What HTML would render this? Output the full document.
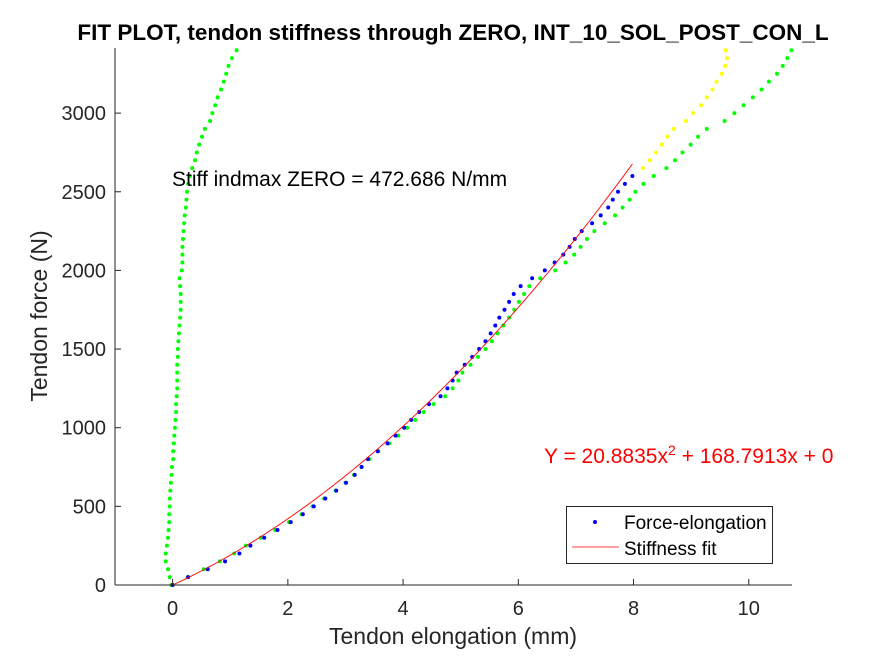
<!DOCTYPE html>
<html><head><meta charset="utf-8"><style>
body{margin:0;background:#fff;width:875px;height:656px;overflow:hidden}
svg{font-family:"Liberation Sans",Arial,sans-serif}
</style></head><body>
<svg id="chart" width="875" height="656">
<rect width="875" height="656" fill="#fff"/>
<text x="453" y="40" text-anchor="middle" font-size="22.5" font-weight="bold" fill="#000">FIT PLOT, tendon stiffness through ZERO, INT_10_SOL_POST_CON_L</text>
<g id="marks"></g>
<g id="axes"></g>
<text x="453" y="644" text-anchor="middle" font-size="23" fill="#262626">Tendon elongation (mm)</text>
<text transform="translate(47,316) rotate(-90)" text-anchor="middle" font-size="23" fill="#262626">Tendon force (N)</text>
<text x="172" y="186" font-size="21" fill="#000">Stiff indmax ZERO = 472.686 N/mm</text>
<text x="544" y="463" font-size="21" fill="#f00">Y = 20.8835x<tspan dy="-8" font-size="14">2</tspan><tspan dy="8"> + 168.7913x + 0</tspan></text>
<g>
<rect x="566.5" y="506.5" width="206" height="57" fill="#fff" stroke="#262626" stroke-width="1"/>
<circle cx="595" cy="522" r="2" fill="#00f"/>
<text x="624" y="529" font-size="19" fill="#000">Force-elongation</text>
<line x1="572" y1="547" x2="619" y2="547" stroke="#f00" stroke-width="0.8"/>
<text x="624" y="555" font-size="19" fill="#000">Stiffness fit</text>
</g>
</svg>
<script>
const xTicks=[0,2,4,6,8,10];
const yTicks=[0,500,1000,1500,2000,2500,3000];
const greenLeftX=[-0.02,-0.05,-0.08,-0.12,-0.12,-0.10,-0.08,-0.07,-0.06,-0.06,-0.05,-0.05,-0.04,-0.03,-0.02,-0.01,0.01,0.01,0.02,0.03,0.04,0.05,0.06,0.06,0.07,0.08,0.08,0.08,0.08,0.09,0.09,0.10,0.11,0.12,0.13,0.14,0.14,0.14,0.13,0.12,0.16,0.17,0.17,0.17,0.18,0.19,0.20,0.21,0.23,0.24,0.25,0.27,0.30,0.34,0.39,0.42,0.46,0.51,0.56,0.65,0.69,0.74,0.78,0.84,0.89,0.93,0.97,1.03,1.11];
const greenRightX=[0,0.26,0.54,0.82,1.07,1.27,1.53,1.78,2.02,2.24,2.43,2.63,2.83,3.00,3.15,3.28,3.41,3.57,3.76,3.92,4.07,4.21,4.36,4.53,4.73,4.86,4.96,5.03,5.17,5.30,5.43,5.54,5.64,5.74,5.84,5.93,6.01,6.10,6.19,6.38,6.64,6.82,6.97,7.08,7.19,7.32,7.50,7.68,7.81,7.93,8.03,8.17,8.35,8.57,8.72,8.85,8.99,9.12,9.27,9.58,9.75,9.91,10.07,10.22,10.35,10.49,10.59,10.67,10.74];
const yellowX=[8.16,8.28,8.39,8.49,8.59,8.70,8.91,9.03,9.17,9.27,9.37,9.44,9.53,9.59,9.62,9.60];
const yellowStart=2650;
const blueX=[0,0.27,0.61,0.91,1.16,1.35,1.59,1.82,2.05,2.26,2.45,2.65,2.84,3.01,3.16,3.28,3.39,3.56,3.73,3.87,4.02,4.14,4.28,4.45,4.65,4.77,4.86,4.93,5.07,5.20,5.32,5.43,5.52,5.60,5.67,5.76,5.84,5.92,6.04,6.24,6.46,6.63,6.78,6.89,6.98,7.10,7.28,7.43,7.56,7.64,7.73,7.85,7.98];
const forceStep=50;
const fitCoef=[20.8835,168.7913,0];
const fitMaxX=7.98;

const X0=115,X1=792,Y0=585,Y1=48,XMIN=-1,XMAX=10.75,YMIN=0,YMAX=3414;
const sx=v=>X0+(v-XMIN)/(XMAX-XMIN)*(X1-X0);
const sy=v=>Y0-(v-YMIN)/(YMAX-YMIN)*(Y0-Y1);
const NS='http://www.w3.org/2000/svg';
const marks=document.getElementById('marks'),axes=document.getElementById('axes');
function mk(t,a,p){const e=document.createElementNS(NS,t);for(const k in a)e.setAttribute(k,a[k]);p.appendChild(e);return e;}
function dots(xs,start,color,name){
  xs.forEach((x,i)=>{
    const c=mk('circle',{cx:sx(x),cy:sy(start+i*forceStep),r:2,fill:color},marks);
    
    
  });
}
dots(greenLeftX,0,'#00ff00','green-left-point');
dots(greenRightX,0,'#00ff00','green-right-point');
dots(yellowX,yellowStart,'#ffff00','yellow-point');
dots(blueX,0,'#0000ff','force-elongation-point');
let d='';
for(let i=0;i<=100;i++){const x=fitMaxX*i/100;const y=fitCoef[0]*x*x+fitCoef[1]*x+fitCoef[2];d+=(i?'L':'M')+sx(x).toFixed(2)+' '+sy(y).toFixed(2);}
const fl=mk('path',{d:d,fill:'none',stroke:'#f00','stroke-width':0.9},marks);


const la=mk('line',{x1:X0,y1:Y1,x2:X0,y2:Y0,stroke:'#262626','stroke-width':1},axes);


const lb=mk('line',{x1:X0,y1:Y0,x2:X1,y2:Y0,stroke:'#262626','stroke-width':1},axes);


xTicks.forEach(v=>{
  const t=mk('line',{x1:sx(v),y1:Y0,x2:sx(v),y2:Y0-6,stroke:'#262626'},axes);
  
  
  const l=mk('text',{x:sx(v),y:Y0+30,'text-anchor':'middle','font-size':20,fill:'#262626'},axes);
  l.textContent=v;
  
  
});
yTicks.forEach(v=>{
  const t=mk('line',{x1:X0,y1:sy(v),x2:X0+6,y2:sy(v),stroke:'#262626'},axes);
  
  
  const l=mk('text',{x:X0-9,y:sy(v)+7,'text-anchor':'end','font-size':20,fill:'#262626'},axes);
  l.textContent=v;
  
  
});
</script>
</body></html>
